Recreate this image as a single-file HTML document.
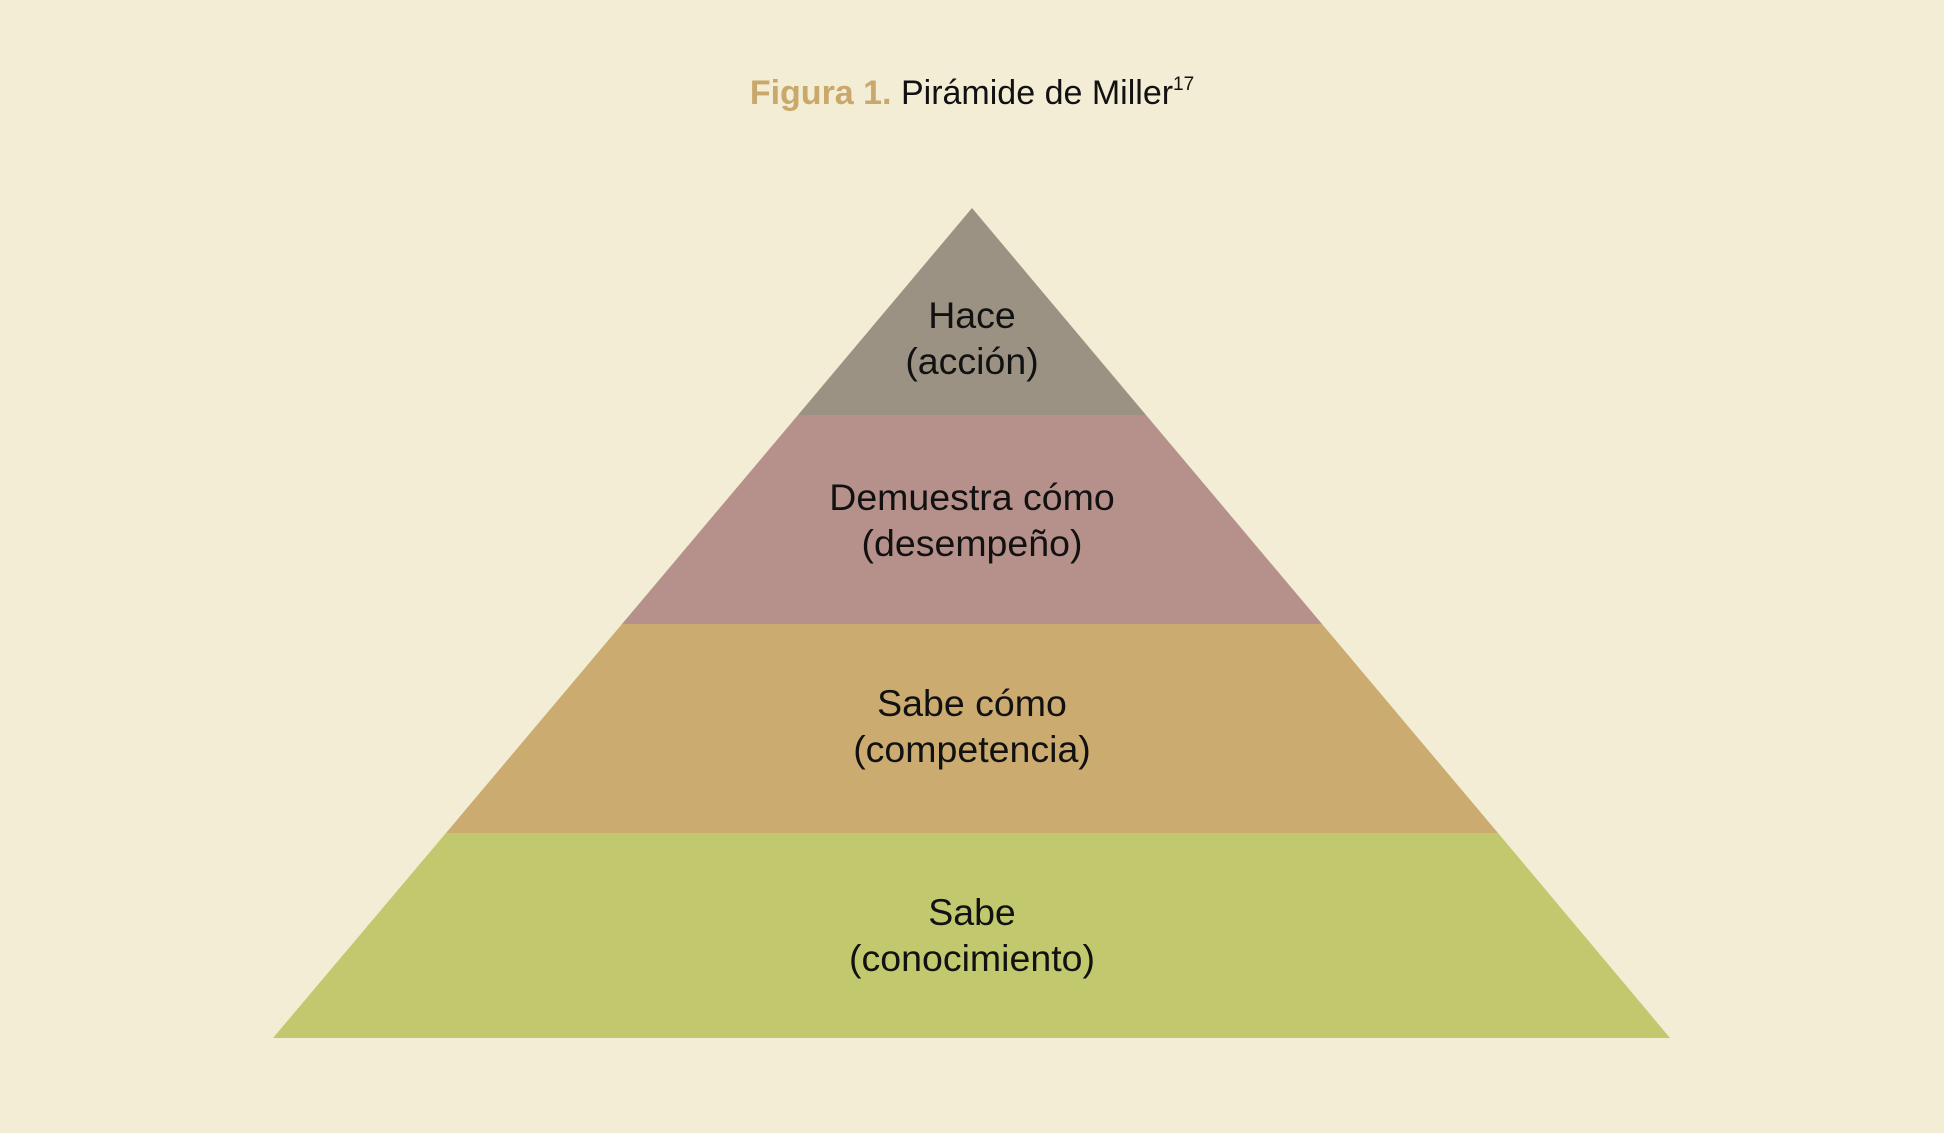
<!DOCTYPE html>
<html><head><meta charset="utf-8"><style>
html,body{margin:0;padding:0;background:#f2edd4;}
svg{display:block;}
text{font-family:"Liberation Sans",sans-serif;}
</style></head><body>
<svg width="1944" height="1133" viewBox="0 0 1944 1133" xmlns="http://www.w3.org/2000/svg">
<rect width="1944" height="1133" fill="#f2edd4"/>
<text x="972" y="93" text-anchor="middle" dominant-baseline="central" font-size="34"><tspan fill="#c9a86b" font-weight="bold">Figura 1.</tspan><tspan fill="#111"> Pirámide de Miller</tspan><tspan fill="#111" font-size="19" dy="-9">17</tspan></text>
<polygon points="972,208 1146,415 798,415" fill="#9c9284"/>
<polygon points="798,415 1146,415 1322,624 622,624" fill="#b6908a"/>
<polygon points="622,624 1322,624 1498,833 446,833" fill="#cbab70"/>
<polygon points="446,833 1498,833 1670,1038 273,1038" fill="#c2c86d"/>
<g font-size="37.5" fill="#111" text-anchor="middle" dominant-baseline="central">
<text x="972" y="315">Hace</text>
<text x="972" y="361">(acción)</text>
<text x="972" y="497">Demuestra cómo</text>
<text x="972" y="543">(desempeño)</text>
<text x="972" y="703">Sabe cómo</text>
<text x="972" y="749">(competencia)</text>
<text x="972" y="912">Sabe</text>
<text x="972" y="958">(conocimiento)</text>
</g>
</svg>
</body></html>
